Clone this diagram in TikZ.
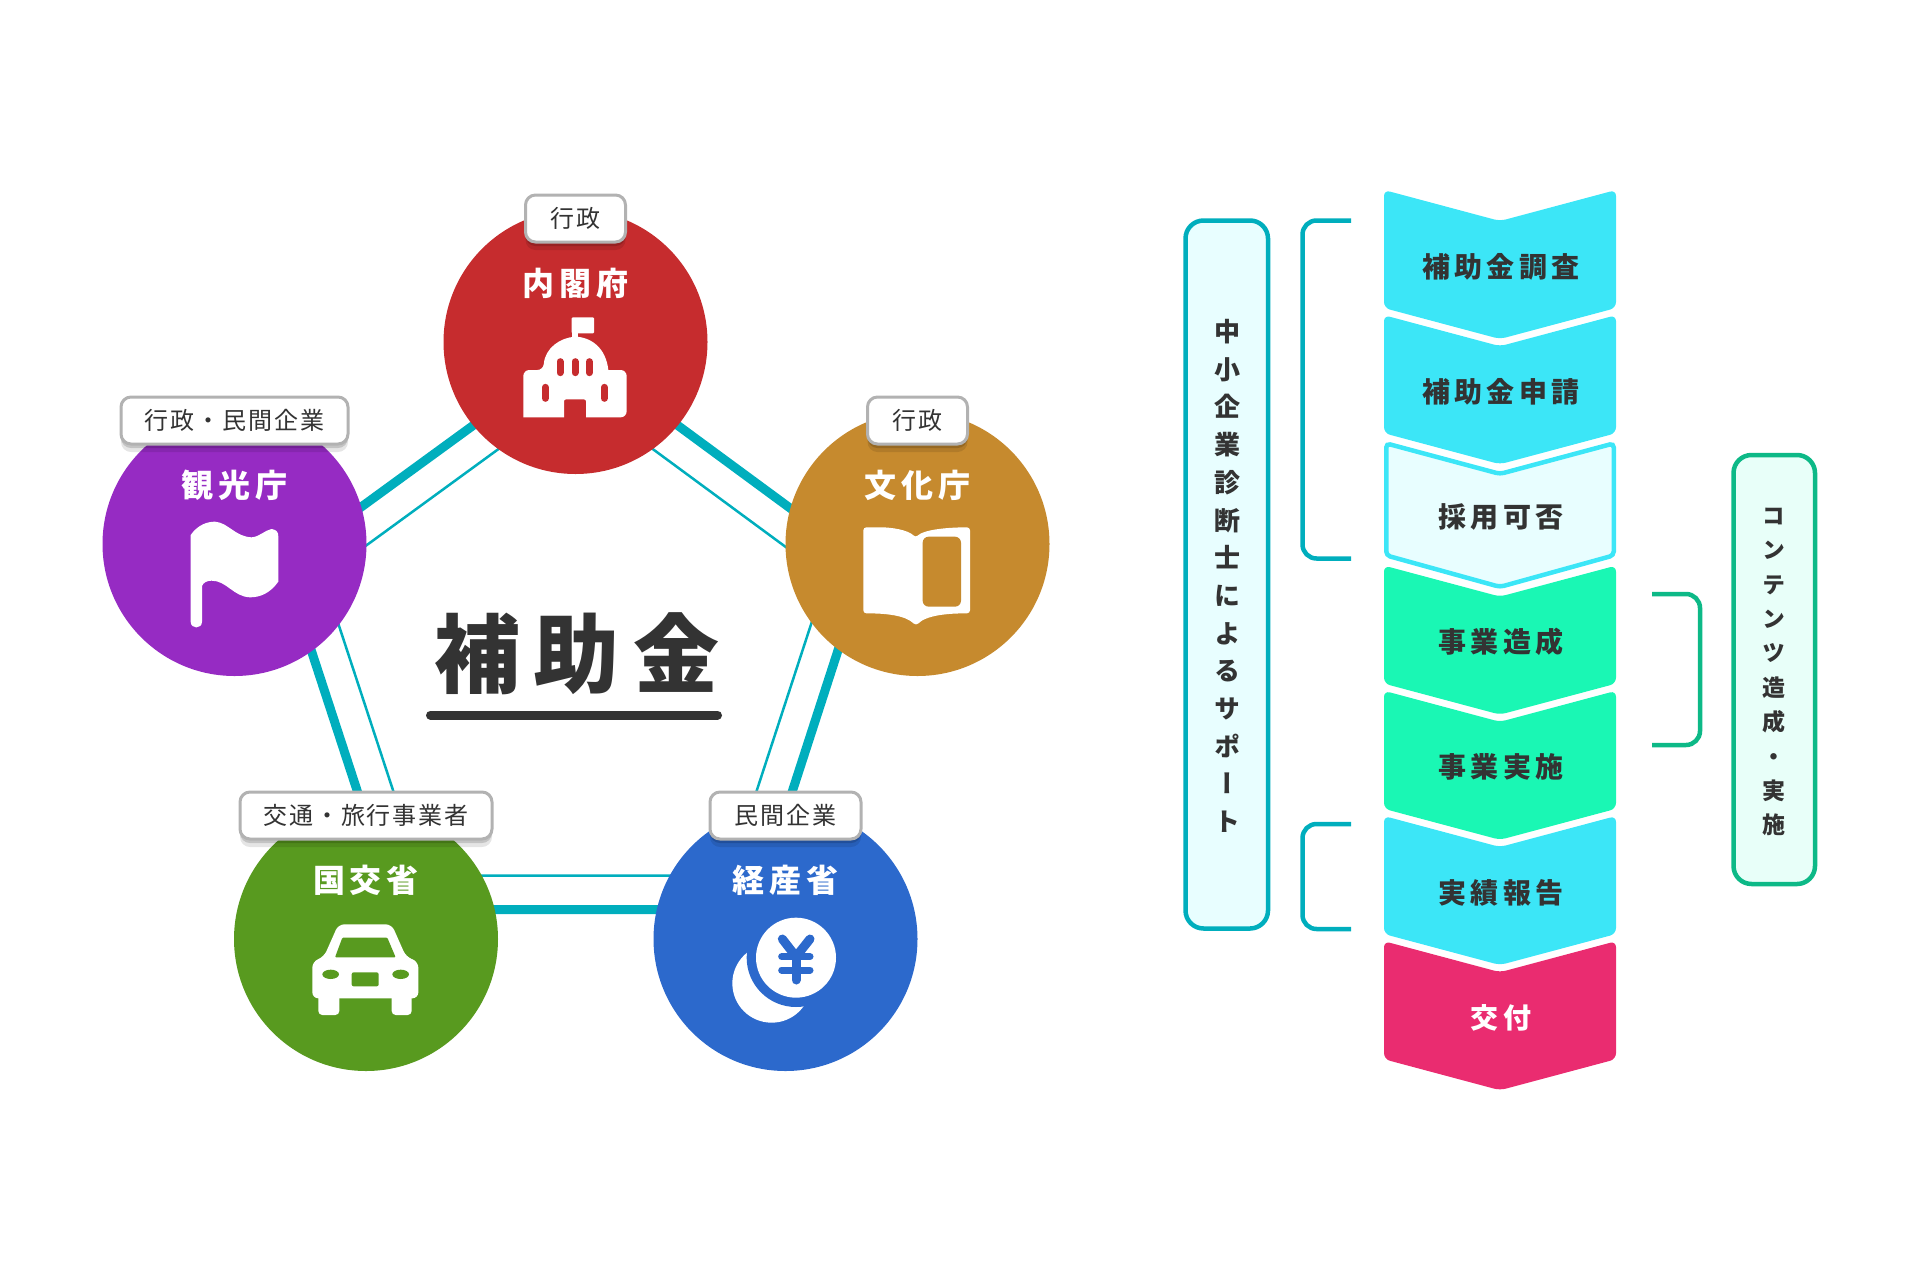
\documentclass[tikz,border=0pt]{standalone}
\usepackage{fontspec}
\usetikzlibrary{shadows}

\setmainfont{Noto Sans CJK JP}
\newfontfamily\tagfont[LetterSpace=8]{Noto Sans CJK JP}
\newfontfamily\wordfont[LetterSpace=15]{Noto Sans CJK JP}
\newfontfamily\bigfont[LetterSpace=16]{Noto Sans CJK JP}
\newfontfamily\vertfont[RawFeature=+vert]{Noto Sans CJK JP}

\definecolor{ink}{HTML}{333333}
\definecolor{naikakured}{HTML}{C62C2E}
\definecolor{bunkaorange}{HTML}{C68A2E}
\definecolor{kankopurple}{HTML}{962BC3}
\definecolor{kokkogreen}{HTML}{589A1F}
\definecolor{keisanblue}{HTML}{2C69CC}
\definecolor{teal}{HTML}{00AEBD}
\definecolor{skyfill}{HTML}{3CE6F7}
\definecolor{mintfill}{HTML}{1AF7B4}
\definecolor{palefill}{HTML}{E8FEFF}
\definecolor{pinkfill}{HTML}{EA2C70}
\definecolor{mintline}{HTML}{0DB987}
\definecolor{palemint}{HTML}{E8FFF9}

\tikzset{
	ministry/.style = {circle, fill = #1, minimum size = 264pt, inner sep = 0},
	minititle/.style = {white, inner sep = 0, font = \fontsize{32}{32}\wordfont\bfseries},
	taglabel/.style = {draw = black!30, line width = 3pt, fill = white, rounded corners = 10pt,
		minimum height = 47pt, inner sep = 0, text = ink, font = \fontsize{24}{24}\tagfont,
		drop shadow = {shadow xshift = 0pt, shadow yshift = -8pt, opacity = 0.1, fill = black},
		drop shadow = {shadow xshift = 0pt, shadow yshift = -4pt, opacity = 0.15, fill = black}},
	steplabel/.style = {inner sep = 0, text = ink, font = \fontsize{28}{28}\wordfont\bfseries},
	sidebox/.style = {line width = 4.5pt, rounded corners = 18pt},
	bracket/.style = {line width = 4.5pt, rounded corners = 14pt},
}

\begin{document}
\begin{tikzpicture}[x = 1pt, y = -1pt]

	\useasboundingbox (0, 0) rectangle (1920, 1280);

	% Pentagon behind the circles

	\begin{scope}[shift = {(576, 659.5)}]
		\draw [teal, line width = 9pt] (0, -309) -- (290, -95.5) -- (178, 250) -- (-180, 250) -- (-293, -95.5) -- cycle;
		\draw [teal, line width = 2.5pt] (0, -267) -- (250.5, -82.5) -- (153, 216) -- (-155, 216) -- (-253, -82.5) -- cycle;
	\end{scope}

	% Ministries

	\foreach \Name/\X/\Y/\Col/\Title/\Tag/\W in {
		naikaku/575.5/342/naikakured/内閣府/行政/100,
		bunka/917.5/544/bunkaorange/文化庁/行政/100,
		kanko/234.5/544/kankopurple/観光庁/行政・民間企業/227,
		kokko/366/939/kokkogreen/国交省/交通・旅行事業者/252,
		keisan/785.5/939/keisanblue/経産省/民間企業/151}
	{
		\node [ministry = \Col] (\Name) at (\X, \Y) {};
		\node [minititle] (\Name title) at (\X, \Y - 59) {\Title};
		\node [taglabel, minimum width = \W pt] (\Name tag) at (\X, \Y - 123.5) {\Tag};
	}

	% Centre title

	\node [inner sep = 0, text = ink, font = \fontsize{86}{86}\bigfont\bfseries] (hojokin) at (577, 654) {補助金};
	\draw [ink, line width = 9pt, line cap = round] (430.5, 715) -- (717.5, 715);

	% Building

	\begin{scope}[shift = {(510, 310)}, scale = 1/3]
		\fill [white] (40, 322) [rounded corners = 6pt] -- (40, 180) -- (100, 180) [sharp corners]
			.. controls (105, 115) and (150, 82) .. (197, 80) .. controls (245, 82) and (288, 115) .. (295, 180)
			[rounded corners = 6pt] -- (350, 180) -- (350, 322) [sharp corners] -- (228, 322) [rounded corners = 2pt] -- (228, 268) -- (162, 268) [sharp corners] -- (162, 322) -- cycle;
		\fill [white, rounded corners = 1pt] (185, 22) rectangle (252, 70);
		\fill [white] (185, 60) rectangle (203, 90);
		\foreach \Q/\A/\B in {150/155/188, 195/155/188, 238/155/188, 106/232/265, 283/232/265}
			\draw [naikakured, line width = 7pt, line cap = round] (\Q, \A) -- (\Q, \B);
	\end{scope}

	% Flag

	\begin{scope}[shift = {(170, 510)}, scale = 1/3]
		\fill [white] (62, 335) -- (62, 75) .. controls (85, 42) and (115, 35) .. (135, 35)
			.. controls (175, 38) and (195, 80) .. (245, 82) .. controls (270, 80) and (285, 60) .. (305, 57)
			.. controls (320, 60) and (325, 65) .. (325, 80) -- (325, 215) .. controls (300, 250) and (270, 262) .. (240, 262)
			.. controls (190, 260) and (170, 212) .. (125, 212) .. controls (110, 212) and (100, 218) .. (96, 228)
			-- (96, 335) .. controls (96, 358) and (62, 358) .. (62, 335) -- cycle;
	\end{scope}

	% Book

	\begin{scope}[shift = {(855, 515)}, scale = 1/3]
		\fill [white, rounded corners = 3pt] (25, 37) -- (70, 37) .. controls (110, 37) and (160, 45) .. (182, 68)
			.. controls (205, 45) and (270, 37) .. (345, 37) -- (345, 295) .. controls (280, 295) and (215, 300) .. (183, 332)
			.. controls (150, 300) and (90, 295) .. (25, 295) -- cycle;
		\fill [bunkaorange, rounded corners = 6pt] (203, 65) rectangle (318, 275);
	\end{scope}

	% Car

	\begin{scope}[shift = {(300, 915)}, scale = 1/3]
		\fill [white, rounded corners = 6pt] (115, 28) -- (275, 28) -- (318, 125) -- (355, 140) -- (355, 250) -- (37, 250) -- (37, 140) -- (72, 125) -- cycle;
		\fill [white, rounded corners = 4pt] (55, 230) rectangle (118, 300);
		\fill [white, rounded corners = 4pt] (275, 230) rectangle (335, 300);
		\fill [kokkogreen, rounded corners = 1pt] (127, 68) -- (262, 68) -- (287, 127) -- (105, 127) -- cycle;
		\fill [kokkogreen] (92, 178) ellipse (25 and 14);
		\fill [kokkogreen] (302, 178) ellipse (25 and 14);
		\fill [kokkogreen, rounded corners = 2pt] (155, 172) rectangle (236, 214);
	\end{scope}

	% Coins

	\begin{scope}[shift = {(725, 915)}, scale = 1/3]
		\fill [white] (140, 205) circle (118);
		\fill [keisanblue] (213, 128) circle (148);
		\fill [white] (213, 128) circle (120);
		\draw [keisanblue, line width = 9pt, line cap = round, line join = round] (172, 72) -- (213, 125) -- (255, 72);
		\draw [keisanblue, line width = 9pt, line cap = round] (213, 125) -- (213, 195);
		\draw [keisanblue, line width = 7pt, line cap = round] (170, 125) -- (255, 125);
		\draw [keisanblue, line width = 7pt, line cap = round] (170, 165) -- (255, 165);
	\end{scope}

	% Flow of steps

	\foreach \Name/\T/\Col/\Txt/\Ink in {
		chosa/190/skyfill/補助金調査/ink,
		shinsei/315.2/skyfill/補助金申請/ink,
		zosei/565.6/mintfill/事業造成/ink,
		jisshi/690.8/mintfill/事業実施/ink,
		hokoku/816/skyfill/実績報告/ink,
		kofu/941.2/pinkfill/交付/white}
	{
		\begin{scope}[shift = {(0, \T)}]
			\fill [\Col, rounded corners = 6pt] (1384, 0) -- (1500, 31) -- (1616, 0) -- (1616, 118) -- (1500, 149) -- (1384, 118) -- cycle;
			\node [steplabel, text = \Ink] (\Name) at (1501, 76.5) {\Txt};
		\end{scope}
	}

	% Pale step

	\begin{scope}[shift = {(0, 440.4)}]
		\draw [skyfill, fill = palefill, line width = 4.5pt, rounded corners = 4pt] (1386.25, 3) -- (1500, 33.5) -- (1613.75, 3) -- (1613.75, 115) -- (1500, 146.5) -- (1386.25, 115) -- cycle;
		\node [steplabel] (saiyo) at (1501, 76.5) {採用可否};
	\end{scope}

	% Side boxes

	\draw [teal, fill = palefill, sidebox] (1185.5, 220.5) rectangle (1268, 928.5);
	\node [inner sep = 0, text = ink, align = center, font = \fontsize{26}{37.7}\vertfont\bfseries] (support) at (1227, 576)
		{中\\小\\企\\業\\診\\断\\士\\に\\よ\\る\\サ\\ポ\\ー\\ト};

	\draw [mintline, fill = palemint, sidebox] (1733.5, 455) rectangle (1815, 884);
	\node [inner sep = 0, text = ink, align = center, font = \fontsize{23}{34.4}\vertfont\bfseries] (contents) at (1774, 672)
		{コ\\ン\\テ\\ン\\ツ\\造\\成\\・\\実\\施};

	% Brackets

	\draw [teal, bracket] (1351, 220.5) -- (1302.5, 220.5) -- (1302.5, 558.5) -- (1351, 558.5);
	\draw [teal, bracket] (1351, 824) -- (1302.5, 824) -- (1302.5, 929) -- (1351, 929);
	\draw [mintline, bracket] (1652, 594) -- (1700, 594) -- (1700, 745) -- (1652, 745);

\end{tikzpicture}
\end{document}
